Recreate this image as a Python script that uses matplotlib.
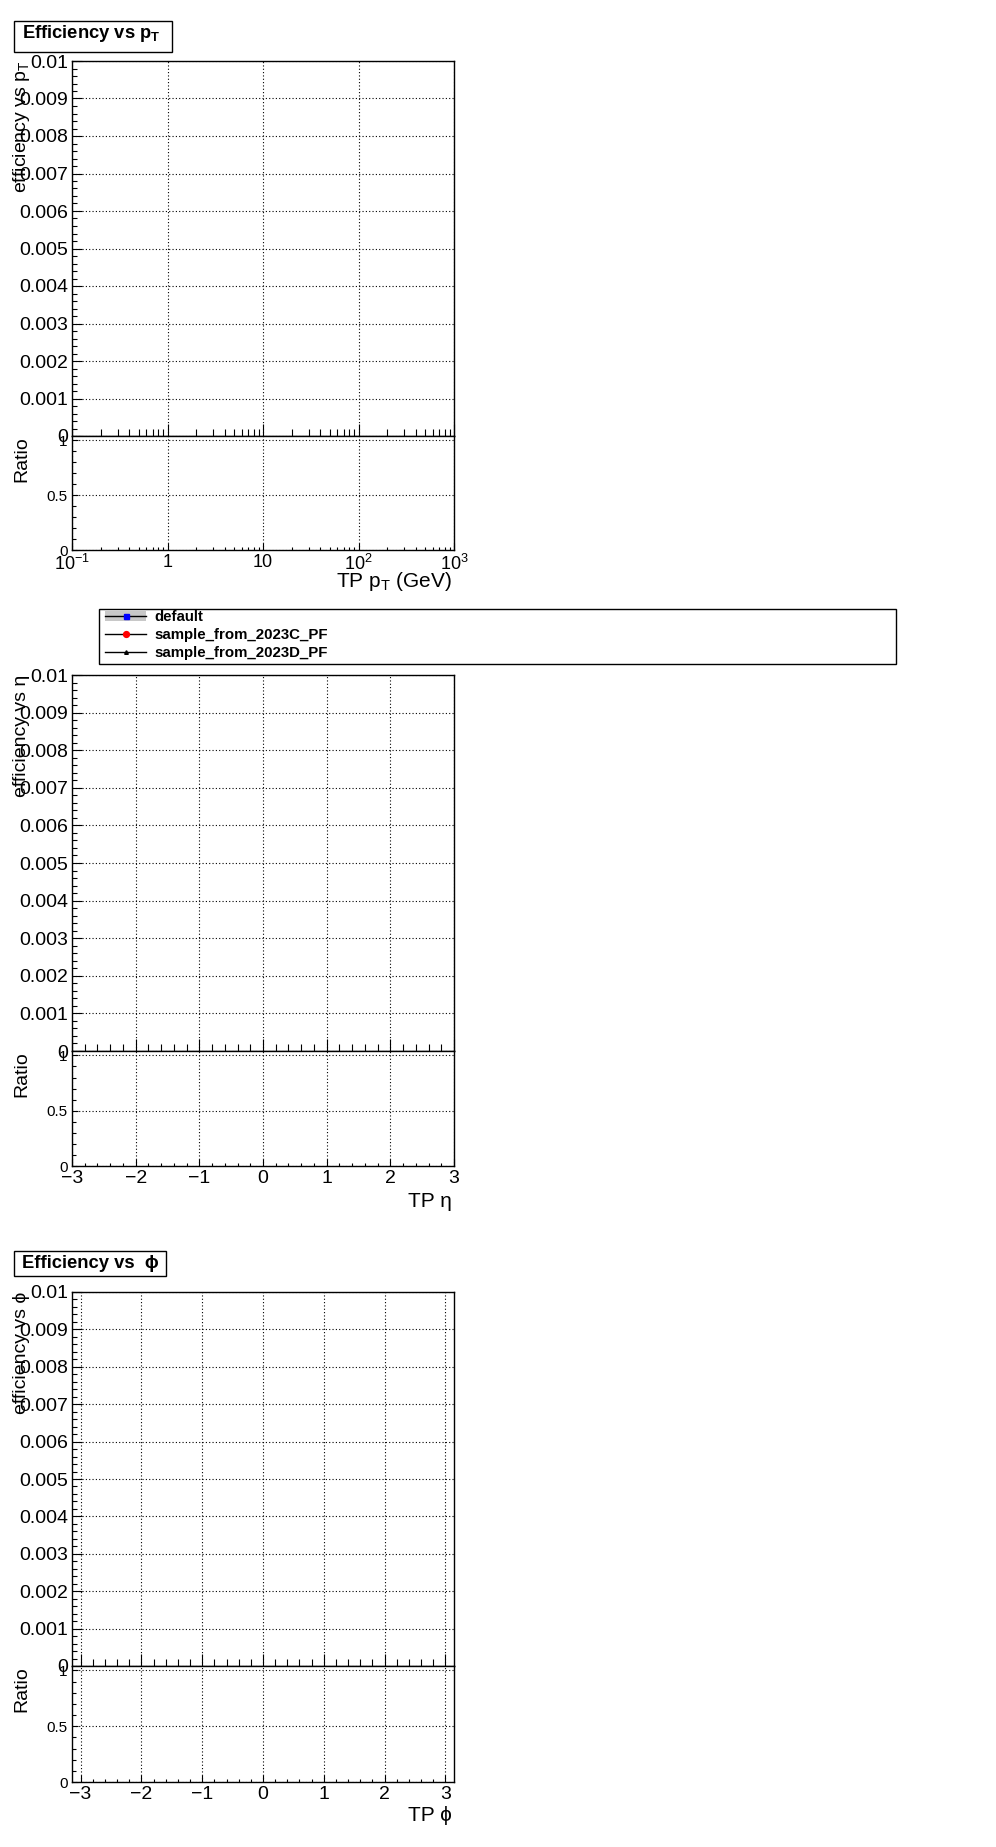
import numpy as np
import matplotlib
matplotlib.use('Agg')
from matplotlib import pyplot as plt
from matplotlib.patches import Rectangle
from matplotlib.ticker import MultipleLocator, FixedLocator, FixedFormatter, LogLocator, NullFormatter, FuncFormatter

plt.rcParams['font.family'] = ['Liberation Sans', 'DejaVu Sans']
plt.rcParams['mathtext.fontset'] = 'custom'
plt.rcParams['mathtext.rm'] = 'Liberation Sans'
plt.rcParams['mathtext.it'] = 'Liberation Sans'
plt.rcParams['mathtext.bf'] = 'Liberation Sans:bold'

# Efficiency histograms are empty in the reference (nothing drawn in any pad)
samples = ['default', 'sample_from_2023C_PF', 'sample_from_2023D_PF']
sample_colors = ['blue', 'red', 'black']
sample_markers = ['s', 'o', '^']
sample_msize = [3.6, 4.2, 2.6]

pt_centers = []
eta_centers = []
phi_centers = []
eff_default = []
eff_default_lo = []
eff_default_hi = []
eff_2023C = []
eff_2023D = []
ratio_2023C = []
ratio_2023D = []

pt_range = (0.1, 1000)
eta_range = (-3, 3)
phi_range = (-np.pi, np.pi)
eff_range = (0, 0.01)
ratio_range = (0, 1.04)

pt_ticks = [0.1, 1, 10, 100, 1000]
pt_ticklabels = ['$10^{-1}$', '1', '10', '$10^{2}$', '$10^{3}$']

W, H = 996, 1847
fig = plt.figure(figsize=(W / 100, H / 100), dpi=100)


def rect(x0, ytop, x1, ybot):
    return [x0 / W, 1 - ybot / H, (x1 - x0) / W, (ybot - ytop) / H]


grid_kw = dict(color='black', linestyle=(0, (1, 2)), linewidth=0.8)
fmt = FuncFormatter(lambda v, p: ('%g' % round(v, 6)).replace('-', '\u2212'))

# pixel layout of the three pads: top of upper, boundary, bottom of lower
pads = [(61, 436, 550), (675, 1051, 1166), (1292, 1666, 1782)]
xranges = [pt_range, eta_range, phi_range]
xcenters = [pt_centers, eta_centers, phi_centers]
ylabels = ['efficiency vs $p_{T}$', 'efficiency vs η', 'efficiency vs ϕ']
xlabels = ['TP $p_{T}$ (GeV)', 'TP η', 'TP ϕ']
xlabel_base = [587, 1207, 1821]

handles = None
for i, (top, mid, bot) in enumerate(pads):
    ax = fig.add_axes(rect(72, top, 454, mid))
    axr = fig.add_axes(rect(72, mid, 454, bot), sharex=ax)
    x = xcenters[i]

    band = ax.fill_between(x, eff_default_lo, eff_default_hi, color='#c8c8c8', lw=0)
    lines = []
    for eff, c, m, ms in zip([eff_default, eff_2023C, eff_2023D], sample_colors,
                             sample_markers, sample_msize):
        ln, = ax.plot(x, eff, color='black', lw=1, marker=m, ms=ms,
                      markerfacecolor=c, markeredgecolor=c)
        lines.append(ln)
    for r, c, m, ms in zip([ratio_2023C, ratio_2023D], sample_colors[1:],
                           sample_markers[1:], sample_msize[1:]):
        axr.plot(x, r, color='black', lw=1, marker=m, ms=ms,
                 markerfacecolor=c, markeredgecolor=c)
    if handles is None:
        handles = [(band, lines[0]), lines[1], lines[2]]

    if i == 0:
        ax.set_xscale('log')
        ax.xaxis.set_major_locator(FixedLocator(pt_ticks))
        ax.xaxis.set_minor_locator(LogLocator(base=10, subs=np.arange(2, 10)))
        ax.xaxis.set_minor_formatter(NullFormatter())
    else:
        ax.xaxis.set_major_locator(MultipleLocator(1))
        ax.xaxis.set_minor_locator(MultipleLocator(0.2))
    ax.set_xlim(*xranges[i])
    ax.set_ylim(*eff_range)
    axr.set_ylim(*ratio_range)

    ax.yaxis.set_major_locator(MultipleLocator(0.001))
    ax.yaxis.set_minor_locator(MultipleLocator(0.0002))
    ax.yaxis.set_major_formatter(fmt)
    axr.yaxis.set_major_locator(MultipleLocator(0.5))
    axr.yaxis.set_minor_locator(MultipleLocator(0.1))
    axr.yaxis.set_major_formatter(fmt)
    if i == 0:
        axr.xaxis.set_major_formatter(FixedFormatter(pt_ticklabels))
        axr.xaxis.set_major_locator(FixedLocator(pt_ticks))
    else:
        axr.xaxis.set_major_formatter(fmt)

    ax.tick_params(axis='both', which='both', direction='in', top=False, right=False,
                   labelbottom=False)
    ax.tick_params(axis='y', which='major', length=7, width=0.8, labelsize=14, pad=3)
    ax.tick_params(axis='y', which='minor', length=3.6, width=0.8)
    ax.tick_params(axis='x', which='major', length=9, width=0.8)
    ax.tick_params(axis='x', which='minor', length=5, width=0.8)

    axr.tick_params(axis='both', which='both', direction='in', top=False, right=False)
    axr.tick_params(axis='y', which='major', length=4.5, width=0.8, labelsize=11, pad=3)
    axr.tick_params(axis='y', which='minor', length=3, width=0.8)
    axr.tick_params(axis='x', which='major', length=5, width=0.8,
                    labelsize=13 if i == 0 else 14, pad=3)
    axr.tick_params(axis='x', which='minor', length=2.5, width=0.8)

    for a in (ax, axr):
        a.grid(True, which='major', **grid_kw)
        for s in a.spines.values():
            s.set_linewidth(1.0)

    fig.text(22 / W, 1 - top / H, ylabels[i], rotation=90, ha='center', va='top', fontsize=14)
    fig.text(22 / W, 1 - mid / H, 'Ratio', rotation=90, ha='center', va='top', fontsize=14)
    fig.text(452 / W, 1 - xlabel_base[i] / H, xlabels[i], ha='right', va='baseline', fontsize=15)

# title boxes (the eta pad has the legend instead)
for (x0, y0, x1, y1, base, txt) in [(14, 21, 172, 52, 38, 'Efficiency vs $\\mathbf{p_{T}}$'),
                                    (14, 1251, 166, 1276, 1268, 'Efficiency vs  ϕ')]:
    fig.patches.append(Rectangle((x0 / W, 1 - y1 / H), (x1 - x0) / W, (y1 - y0) / H,
                                 transform=fig.transFigure, facecolor='white',
                                 edgecolor='black', lw=1.0))
    fig.text(22 / W, 1 - base / H, txt, ha='left', va='baseline', fontsize=13.2,
             fontweight='bold')

# legend box drawn separately so the entries can be placed freely
fig.patches.append(Rectangle((99 / W, 1 - 664 / H), 797 / W, 55 / H,
                             transform=fig.transFigure, facecolor='white',
                             edgecolor='black', lw=1.0, zorder=0))
leg = fig.legend(handles, samples, loc='upper left',
                 bbox_to_anchor=(105 / W, 1 - 610 / H), borderaxespad=0,
                 frameon=False, prop={'weight': 'bold', 'size': 10.8},
                 handlelength=2.75, handletextpad=0.55, labelspacing=0.26,
                 borderpad=0, numpoints=1)

fig.savefig('out.png', dpi=100)
